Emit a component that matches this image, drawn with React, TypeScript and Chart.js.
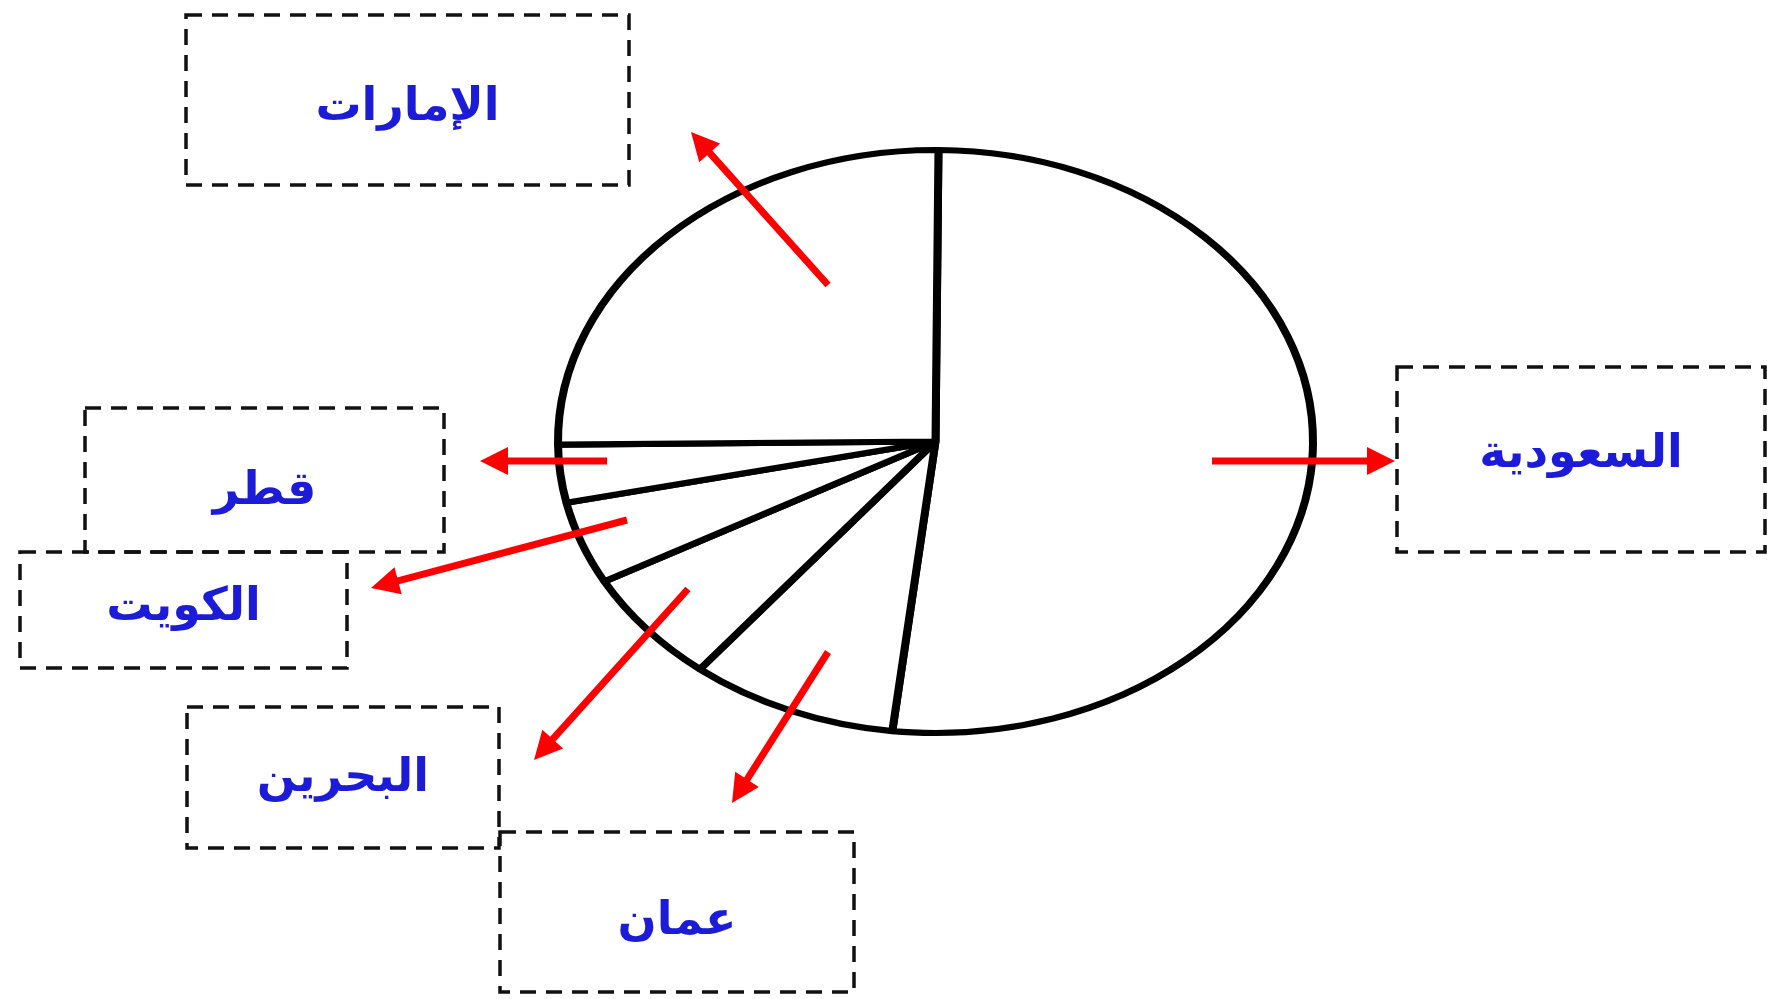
import React, { useEffect, useRef } from "react";
import { Chart, registerables } from "chart.js";

Chart.register(...registerables);

// ---- data (clockwise from the top) ----
const countries = ["السعودية", "عمان", "البحرين", "الكويت", "قطر", "الإمارات"];
const shares = [51.7, 8.9, 6.3, 4.6, 3.2, 25.3];

// ---- callout layout: dashed box [x1, y1, x2, y2] and arrow [tailX, tailY, tipX, tipY] ----
const boxRects = [
  [1397, 367, 1765, 552],
  [500, 832, 854, 992],
  [187, 707, 499, 848],
  [20, 552, 347, 668],
  [85, 408, 444, 552],
  [186, 15, 629, 185],
];
const textShiftY = [-4, 10, 2, -2, 12, 8];
const arrowLines = [
  [1212, 461, 1395, 461],
  [828, 652, 732, 803],
  [688, 589, 534, 760],
  [627, 520, 371, 588],
  [607, 461, 480, 461],
  [828, 285, 691, 132],
];

const W = 1767;
const H = 999;
const ELLIPSE_RATIO = 291.5 / 377.5;
const BORDER = 8;

const ellipsePlugin = {
  id: "ellipseSquash",
  beforeDatasetsDraw(chart: any) {
    const arc = chart.getDatasetMeta(0).data[0];
    if (!arc) return;
    const { x, y } = arc;
    const ctx = chart.ctx;
    ctx.save();
    ctx.translate(x, y);
    ctx.scale(1, ELLIPSE_RATIO);
    ctx.translate(-x, -y);
  },
  afterDatasetsDraw(chart: any) {
    chart.ctx.restore();
  },
};

const calloutPlugin = {
  id: "callouts",
  afterDraw(chart: any) {
    const ctx: CanvasRenderingContext2D = chart.ctx;
    const labels: string[] = chart.data.labels;
    labels.forEach((label, i) => {
      const [x1, y1, x2, y2] = boxRects[i];
      ctx.save();
      ctx.strokeStyle = "#111111";
      ctx.lineWidth = 3.5;
      ctx.setLineDash([16, 10]);
      ctx.strokeRect(x1, y1, x2 - x1, y2 - y1);
      ctx.restore();

      ctx.save();
      ctx.fillStyle = "#1c1cd8";
      ctx.font = "bold 46px 'DejaVu Sans'";
      ctx.textAlign = "center";
      ctx.textBaseline = "middle";
      (ctx as any).direction = "rtl";
      ctx.fillText(label, (x1 + x2) / 2, (y1 + y2) / 2 + textShiftY[i]);
      ctx.restore();

      const [tx, ty, hx, hy] = arrowLines[i];
      const ang = Math.atan2(hy - ty, hx - tx);
      const headLen = 28;
      const headHalf = 14;
      const bx = hx - headLen * Math.cos(ang);
      const by = hy - headLen * Math.sin(ang);
      ctx.save();
      ctx.strokeStyle = "#ff0000";
      ctx.fillStyle = "#ff0000";
      ctx.lineWidth = 7;
      ctx.beginPath();
      ctx.moveTo(tx, ty);
      ctx.lineTo(bx + 2 * Math.cos(ang), by + 2 * Math.sin(ang));
      ctx.stroke();
      ctx.beginPath();
      ctx.moveTo(hx, hy);
      ctx.lineTo(bx + headHalf * Math.sin(ang), by - headHalf * Math.cos(ang));
      ctx.lineTo(bx - headHalf * Math.sin(ang), by + headHalf * Math.cos(ang));
      ctx.closePath();
      ctx.fill();
      ctx.restore();
    });
  },
};

export default function App() {
  const canvasRef = useRef<HTMLCanvasElement | null>(null);

  useEffect(() => {
    if (!canvasRef.current) return;
    const cx = 935.5;
    const cy = 441.5;
    const half = (755 + BORDER) / 2;
    const chart = new Chart(canvasRef.current, {
      type: "pie",
      data: {
        labels: countries,
        datasets: [
          {
            data: shares,
            backgroundColor: "#ffffff",
            borderColor: "#000000",
            borderWidth: BORDER,
            clip: false as any,
          },
        ],
      },
      plugins: [ellipsePlugin, calloutPlugin],
      options: {
        animation: false,
        responsive: false,
        maintainAspectRatio: false,
        events: [],
        rotation: 0.45,
        layout: {
          padding: {
            left: cx - half,
            right: W - (cx + half),
            top: cy - half,
            bottom: H - (cy + half),
          },
        },
        plugins: {
          legend: { display: false },
          tooltip: { enabled: false },
          title: { display: false },
        },
      },
    });
    return () => chart.destroy();
  }, []);

  return (
    <div
      style={{
        position: "fixed",
        left: 0,
        top: 0,
        width: W,
        height: H,
        background: "#ffffff",
      }}
    >
      <canvas ref={canvasRef} width={W} height={H} style={{ width: W, height: H, display: "block" }} />
    </div>
  );
}
